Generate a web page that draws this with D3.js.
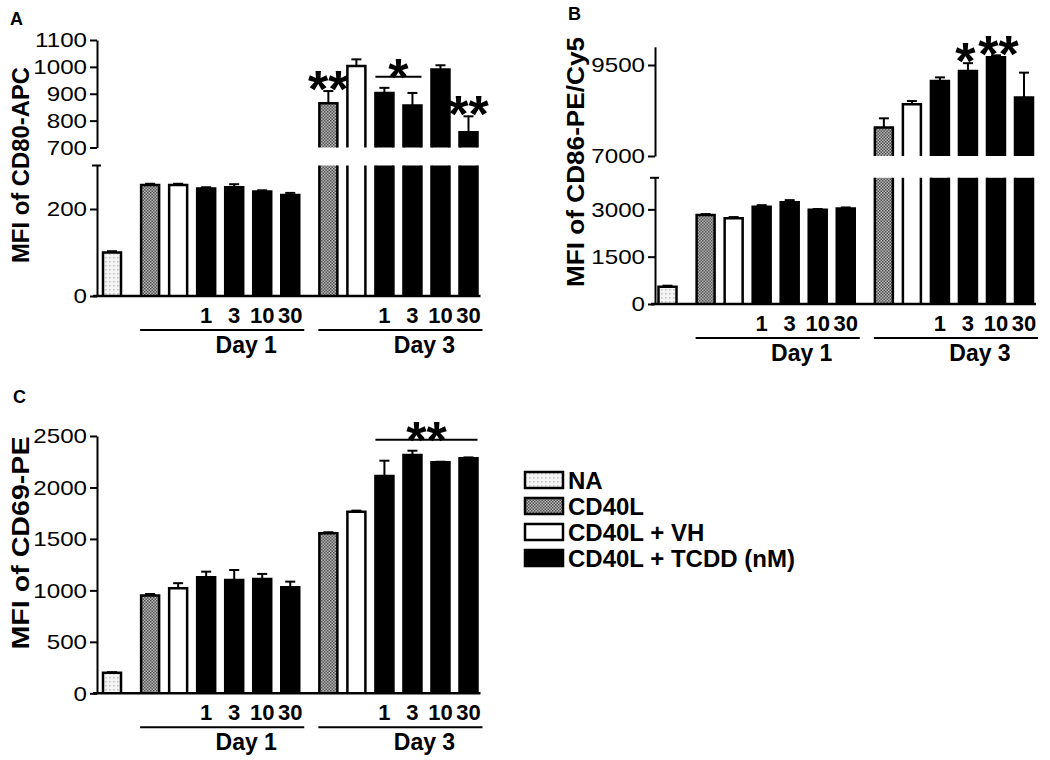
<!DOCTYPE html>
<html><head><meta charset="utf-8">
<script src="https://cdn.jsdelivr.net/npm/d3@7"></script>
<style>
body{margin:0;background:#fff}
svg{display:block}
text{font-family:"Liberation Sans",Arial,Helvetica,sans-serif;fill:#000}
</style>
</head><body>
<svg id="c" width="1050" height="760"></svg>
<script>
// ---------- data ----------
const legendLabels = ["NA", "CD40L", "CD40L + VH", "CD40L + TCDD (nM)"];
const legendKinds = ["NA", "CD40L", "VH", "TCDD"];
const barKinds = ["NA", "CD40L", "VH", "TCDD", "TCDD", "TCDD", "TCDD", "CD40L", "VH", "TCDD", "TCDD", "TCDD", "TCDD"];
const barDay = [0, 1, 1, 1, 1, 1, 1, 2, 2, 2, 2, 2, 2];
const barDose = ["", "", "", "1", "3", "10", "30", "", "", "1", "3", "10", "30"];
const dayLabels = ["Day 1", "Day 3"];

const cd80Mean = [100, 255, 255, 247, 250, 240, 232, 865, 1003, 903, 856, 990, 757];
const cd80Err  = [3, 3, 3, 3, 7, 3, 5, 45, 25, 19, 47, 16, 59];
const cd80Sig  = [{from: 7, to: 7, text: "**"}, {from: 9, to: 10, text: "*"}, {from: 12, to: 12, text: "**"}];

const cd86Mean = [550, 2820, 2715, 3083, 3222, 2990, 3030, 7780, 8420, 9060, 9335, 9710, 8610];
const cd86Err  = [30, 30, 40, 50, 70, 20, 30, 255, 90, 100, 215, 55, 680];
const cd86Sig  = [{from: 10, to: 10, text: "*"}, {from: 11, to: 11, text: "**"}];

const cd69Mean = [200, 950, 1020, 1127, 1101, 1111, 1030, 1555, 1765, 2112, 2316, 2245, 2284];
const cd69Err  = [5, 15, 50, 55, 97, 49, 55, 10, 10, 148, 41, 5, 8];
const cd69Sig  = [{from: 9, to: 12, text: "**"}];

const cd80LowTicks = [0, 200], cd80HighTicks = [700, 800, 900, 1000, 1100];
const cd86LowTicks = [0, 1500, 3000], cd86HighTicks = [7000, 9500];
const cd69Ticks = [0, 500, 1000, 1500, 2000, 2500];

// ---------- drawing ----------
const svg = d3.select("#c");
const defs = svg.append("defs");
const pNA = defs.append("pattern").attr("id", "pNA").attr("patternUnits", "userSpaceOnUse").attr("width", 4).attr("height", 4);
pNA.append("rect").attr("width", 4).attr("height", 4).attr("fill", "#f5f5f5");
pNA.append("rect").attr("x", 1).attr("y", 1).attr("width", 1.6).attr("height", 1.6).attr("fill", "#c4c4c4");
const pCD = defs.append("pattern").attr("id", "pCD").attr("patternUnits", "userSpaceOnUse").attr("width", 3).attr("height", 3);
pCD.append("rect").attr("width", 3).attr("height", 3).attr("fill", "#b4b4b4");
pCD.append("rect").attr("width", 1.5).attr("height", 1.5).attr("fill", "#555");
pCD.append("rect").attr("x", 1.5).attr("y", 1.5).attr("width", 1.5).attr("height", 1.5).attr("fill", "#555");
const kindFill = {NA: "url(#pNA)", CD40L: "url(#pCD)", VH: "#fff", TCDD: "#000"};

const BW = 18;
function stretch(sel, k) {
  sel.each(function () {
    const w = this.getComputedTextLength();
    this.setAttribute("textLength", w * k);
    this.setAttribute("lengthAdjust", "spacingAndGlyphs");
  });
}

function panel(o) {
  const g = svg.append("g");
  const pos = barDay.map((d, i) => i + d * 0.36);
  const x = d3.scaleLinear().domain([0, d3.max(pos)]).range(o.xRange);
  const yLow = d3.scaleLinear().domain(o.lowDomain).range(o.lowRange);
  const yHigh = o.highDomain ? d3.scaleLinear().domain(o.highDomain).range(o.highRange) : null;
  const lowMax = o.lowDomain[1];
  const y0 = yLow(0);
  const scaleFor = i => (yHigh && o.means[i] > lowMax) ? yHigh : yLow;

  // bars
  o.means.forEach((v, i) => {
    const cx = x(pos[i]);
    const fill = kindFill[barKinds[i]];
    const segs = [];
    if (yHigh && v > lowMax) {
      segs.push([yLow(lowMax), y0, false]);
      segs.push([yHigh(v), yHigh(o.highDomain[0]), true]);
    } else segs.push([yLow(v), y0, true]);
    segs.forEach(([yt, yb, closed]) => {
      g.append("rect").attr("x", cx - BW / 2).attr("y", yt).attr("width", BW).attr("height", yb - yt).attr("fill", fill);
      const p = closed
        ? `M${cx - BW / 2},${yb}V${yt}H${cx + BW / 2}V${yb}`
        : `M${cx - BW / 2},${yb}V${yt}M${cx + BW / 2},${yt}V${yb}`;
      g.append("path").attr("d", p).attr("fill", "none").attr("stroke", "#000").attr("stroke-width", 2.5);
    });
    const sc = scaleFor(i);
    const ye = sc(v + o.errs[i]);
    g.append("line").attr("x1", cx).attr("x2", cx).attr("y1", sc(v)).attr("y2", ye).attr("stroke", "#000").attr("stroke-width", 2);
    g.append("line").attr("x1", cx - 5).attr("x2", cx + 5).attr("y1", ye).attr("y2", ye).attr("stroke", "#000").attr("stroke-width", 2);
  });

  // axes
  const styleAxis = ga => {
    ga.select(".domain").attr("stroke-width", 2);
    ga.selectAll(".tick line").attr("stroke-width", 2);
    ga.selectAll(".tick text").style("font-size", "21px").attr("fill", "#000");
    stretch(ga.selectAll(".tick text"), 1.15);
  };
  const gl = g.append("g").attr("transform", `translate(${o.axisX},0)`)
    .call(d3.axisLeft(yLow).tickValues(o.lowTicks).tickSize(7).tickPadding(3).tickSizeOuter(0).tickFormat(d3.format("d")));
  styleAxis(gl);
  if (yHigh) {
    const gh = g.append("g").attr("transform", `translate(${o.axisX},0)`)
      .call(d3.axisLeft(yHigh).tickValues(o.highTicks).tickSize(7).tickPadding(3).tickSizeOuter(0).tickFormat(d3.format("d")));
    styleAxis(gh);
    g.append("line").attr("x1", o.axisX - 5).attr("x2", o.axisX + 4).attr("y1", yLow(lowMax)).attr("y2", yLow(lowMax))
      .attr("stroke", "#000").attr("stroke-width", 2);
  }
  // baseline
  g.append("line").attr("x1", o.axisX - 4).attr("x2", x(d3.max(pos)) + BW / 2 + 3).attr("y1", y0).attr("y2", y0)
    .attr("stroke", "#000").attr("stroke-width", 2.5);

  // dose labels
  barDose.forEach((d, i) => {
    if (!d) return;
    g.append("text").attr("x", x(pos[i])).attr("y", y0 + 27).attr("text-anchor", "middle")
      .style("font-size", "22px").style("font-weight", "bold").text(d);
  });
  // day groups
  dayLabels.forEach((lab, k) => {
    const idx = d3.range(barDay.length).filter(i => barDay[i] === k + 1);
    const first = idx[0], last = idx[idx.length - 1];
    g.append("line").attr("x1", x(pos[first]) - BW / 2 - 1).attr("x2", x(pos[last]) + BW / 2 + 5)
      .attr("y1", y0 + 34).attr("y2", y0 + 34).attr("stroke", "#000").attr("stroke-width", 2);
    const tc = d3.mean(idx.filter(i => barDose[i]), i => x(pos[i])) - 2;
    g.append("text").attr("x", tc).attr("y", y0 + 57).attr("text-anchor", "middle")
      .style("font-size", "23px").style("font-weight", "bold").text(lab);
  });

  // significance
  const stars = [];
  o.sig.forEach(s => {
    const idx = d3.range(s.from, s.to + 1);
    const top = d3.min(idx, i => scaleFor(i)(o.means[i] + o.errs[i]));
    const xl = x(pos[s.from]) - BW / 2, xr = x(pos[s.to]) + BW / 2;
    let cy;
    if (s.from !== s.to) {
      const ly = top - 11;
      g.append("line").attr("x1", xl).attr("x2", xr).attr("y1", ly).attr("y2", ly).attr("stroke", "#000").attr("stroke-width", 2);
      cy = ly - 12;
    } else cy = top - 14;
    const st = g.append("text").attr("x", (xl + xr) / 2).attr("y", cy + 0.58 * 52).attr("text-anchor", "middle")
      .style("font-size", "52px").style("font-weight", "bold").text(s.text);
    stars.push(st);
  });
  // nudge neighbouring asterisk groups apart so they do not overlap
  for (let k = 1; k < stars.length; k++) {
    const a = stars[k - 1].node().getBBox(), b = stars[k].node().getBBox();
    const ov = (a.x + a.width) - b.x;
    const vov = Math.min(a.y + a.height, b.y + b.height) - Math.max(a.y, b.y);
    if (ov > -1 && vov > 0 && b.x > a.x) {
      const sh = (ov + 2) / 2;
      stars[k - 1].attr("x", +stars[k - 1].attr("x") - sh);
      stars[k].attr("x", +stars[k].attr("x") + sh);
    }
  }

  // y title
  const t = g.append("text").attr("transform", `translate(${o.titleX + 8},${o.titleY}) rotate(-90)`)
    .attr("text-anchor", "middle").style("font-size", "23px").style("font-weight", "bold").text(o.title);
  t.attr("textLength", o.titleLen).attr("lengthAdjust", "spacingAndGlyphs");
  // panel letter
  g.append("text").attr("x", o.letterX).attr("y", o.letterY).style("font-size", "18px").style("font-weight", "bold").text(o.letter);
}

panel({means: cd80Mean, errs: cd80Err, sig: cd80Sig, xRange: [112, 468.5], axisX: 97,
  lowDomain: [0, 300], lowRange: [296, 165.5], highDomain: [700, 1100], highRange: [147.5, 40],
  lowTicks: cd80LowTicks, highTicks: cd80HighTicks, title: "MFI of CD80-APC", titleX: 21, titleY: 165, titleLen: 196,
  letter: "A", letterX: 10, letterY: 25});
panel({means: cd86Mean, errs: cd86Err, sig: cd86Sig, xRange: [667.5, 1024], axisX: 655,
  lowDomain: [0, 4000], lowRange: [304, 177.8], highDomain: [7000, 10000], highRange: [156, 46.8],
  lowTicks: cd86LowTicks, highTicks: cd86HighTicks, title: "MFI of CD86-PE/Cy5", titleX: 576, titleY: 162, titleLen: 250,
  letter: "B", letterX: 568, letterY: 20});
panel({means: cd69Mean, errs: cd69Err, sig: cd69Sig, xRange: [112, 468.5], axisX: 97,
  lowDomain: [0, 2500], lowRange: [693.3, 436], highDomain: null,
  lowTicks: cd69Ticks, title: "MFI of CD69-PE", titleX: 21, titleY: 543, titleLen: 213,
  letter: "C", letterX: 13, letterY: 403});

// legend
const lg = svg.append("g");
legendLabels.forEach((lab, i) => {
  const yy = 472 + i * 26;
  lg.append("rect").attr("x", 525).attr("y", yy).attr("width", 38).attr("height", 16)
    .attr("fill", kindFill[legendKinds[i]]).attr("stroke", "#000").attr("stroke-width", 2.5);
  lg.append("text").attr("x", 568).attr("y", yy + 17).style("font-size", "24px").style("font-weight", "bold").text(lab);
});
</script>
</body></html>
